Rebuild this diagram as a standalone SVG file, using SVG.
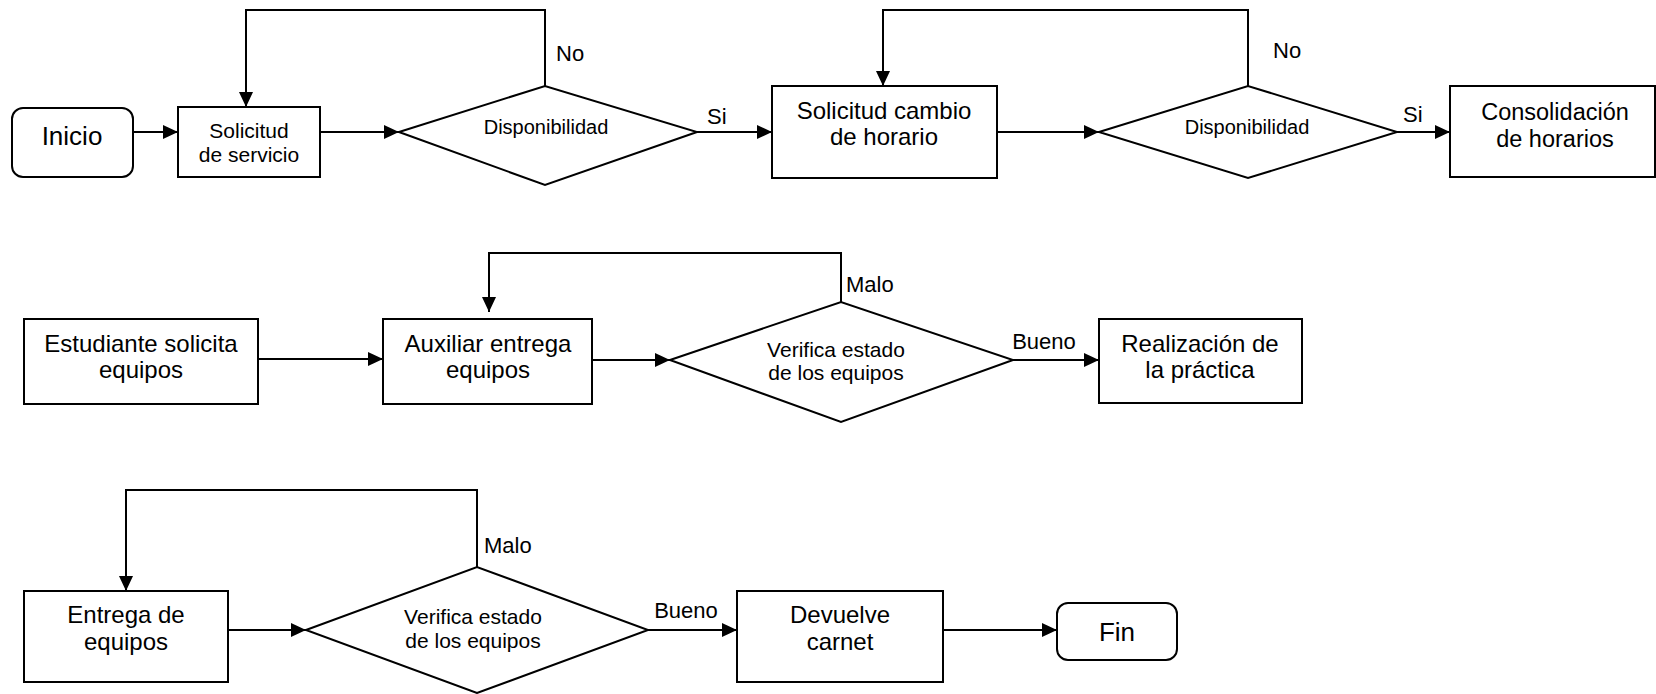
<svg xmlns="http://www.w3.org/2000/svg" width="1656" height="694" viewBox="0 0 1656 694">
<defs>
<marker id="ah" markerUnits="userSpaceOnUse" markerWidth="16" markerHeight="14" refX="15" refY="7" orient="auto">
<path d="M0,0 L15,7 L0,14 z" fill="#000"/>
</marker>
<style>
.s{fill:#fff;stroke:#000;stroke-width:2}
.c{fill:none;stroke:#000;stroke-width:2;marker-end:url(#ah)}
text{font-family:"Liberation Sans",Arial,sans-serif;fill:#000}
.m{text-anchor:middle}
.b{font-size:24px}
.l{font-size:22px}
.v{font-size:21px}
</style>
</defs>
<rect width="1656" height="694" fill="#fff"/>
<g id="connectors">
<path class="c" d="M133,132 H178"/>
<path class="c" d="M320,132 H399"/>
<path class="c" d="M697,132 H772"/>
<path class="c" d="M997,132 H1099"/>
<path class="c" d="M1397,132 H1450"/>
<path class="c" d="M545,86 V10 H246 V107"/>
<path class="c" d="M1248,86 V10 H883 V86"/>
<path class="c" d="M258,359 H383"/>
<path class="c" d="M592,360 H670"/>
<path class="c" d="M1013,360 H1099"/>
<path class="c" d="M841,302 V253 H489 V312"/>
<path class="c" d="M228,630 H306"/>
<path class="c" d="M648,630 H737"/>
<path class="c" d="M943,630 H1057"/>
<path class="c" d="M477,567 V490 H126 V591"/>
<text class="l" x="556" y="61">No</text>
<text class="l" x="1273" y="58">No</text>
<text class="l" x="707" y="124">Si</text>
<text class="l" x="1403" y="122">Si</text>
<text class="l" x="846" y="292">Malo</text>
<text class="l" x="1044" y="349" text-anchor="middle">Bueno</text>
<text class="l" x="484" y="553">Malo</text>
<text class="l" x="686" y="618" text-anchor="middle">Bueno</text>
</g>
<g id="inicio">
<rect class="s" x="12" y="108" width="121" height="69" rx="11"/>
<text class="m" x="72" y="145" font-size="26">Inicio</text>
</g>
<g id="solicitud-servicio">
<rect class="s" x="178" y="107" width="142" height="70"/>
<text class="m" x="249" y="138" font-size="21">Solicitud</text>
<text class="m" x="249" y="162" font-size="21">de servicio</text>
</g>
<g id="disponibilidad-1">
<polygon class="s" points="399,132 545,86 697,132 545,185"/>
<text class="m" x="546" y="134" font-size="20">Disponibilidad</text>
</g>
<g id="solicitud-cambio">
<rect class="s" x="772" y="86" width="225" height="92"/>
<text class="m b" x="884" y="119">Solicitud cambio</text>
<text class="m b" x="884" y="145">de horario</text>
</g>
<g id="disponibilidad-2">
<polygon class="s" points="1099,132 1248,86 1397,132 1248,178"/>
<text class="m" x="1247" y="134" font-size="20">Disponibilidad</text>
</g>
<g id="consolidacion">
<rect class="s" x="1450" y="86" width="205" height="91"/>
<text class="m" x="1555" y="120" font-size="23.5">Consolidación</text>
<text class="m" x="1555" y="147" font-size="23.5">de horarios</text>
</g>
<g id="estudiante">
<rect class="s" x="24" y="319" width="234" height="85"/>
<text class="m b" x="141" y="352">Estudiante solicita</text>
<text class="m b" x="141" y="378">equipos</text>
</g>
<g id="auxiliar">
<rect class="s" x="383" y="319" width="209" height="85"/>
<text class="m b" x="488" y="352">Auxiliar entrega</text>
<text class="m b" x="488" y="378">equipos</text>
</g>
<g id="verifica-1">
<polygon class="s" points="670,360 841,302 1013,360 841,422"/>
<text class="m v" x="836" y="357">Verifica estado</text>
<text class="m v" x="836" y="380">de los equipos</text>
</g>
<g id="realizacion">
<rect class="s" x="1099" y="319" width="203" height="84"/>
<text class="m b" x="1200" y="352">Realización de</text>
<text class="m b" x="1200" y="378">la práctica</text>
</g>
<g id="entrega">
<rect class="s" x="24" y="591" width="204" height="91"/>
<text class="m b" x="126" y="623">Entrega de</text>
<text class="m b" x="126" y="650">equipos</text>
</g>
<g id="verifica-2">
<polygon class="s" points="306,630 477,567 648,630 477,693"/>
<text class="m v" x="473" y="624">Verifica estado</text>
<text class="m v" x="473" y="648">de los equipos</text>
</g>
<g id="devuelve">
<rect class="s" x="737" y="591" width="206" height="91"/>
<text class="m b" x="840" y="623">Devuelve</text>
<text class="m b" x="840" y="650">carnet</text>
</g>
<g id="fin">
<rect class="s" x="1057" y="603" width="120" height="57" rx="11"/>
<text class="m" x="1117" y="641" font-size="26">Fin</text>
</g>
</svg>
